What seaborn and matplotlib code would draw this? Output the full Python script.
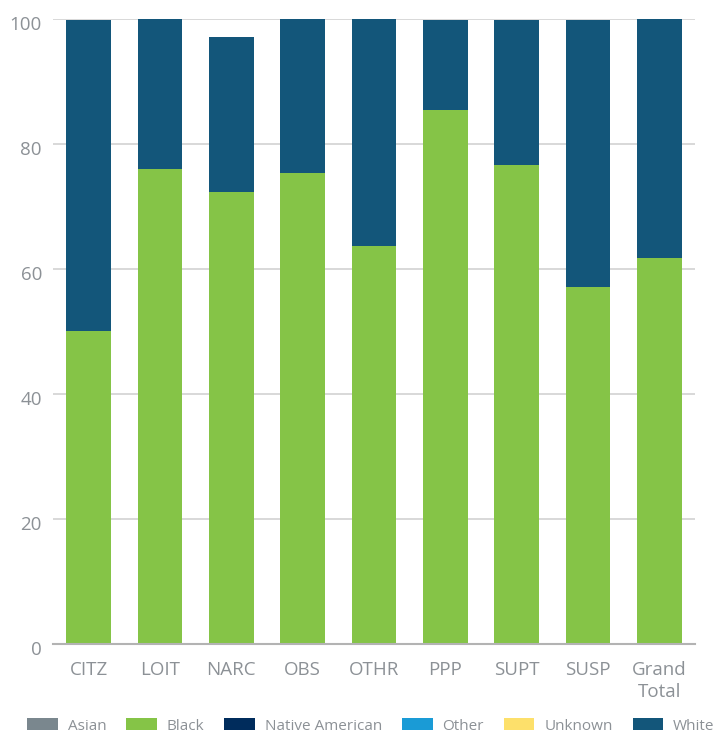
import matplotlib
matplotlib.use("Agg")
import matplotlib.pyplot as plt
import matplotlib.transforms as mtransforms
from matplotlib.patches import Patch
import seaborn as sns
import pandas as pd
import numpy as np

# ---- data ----
categories = ["CITZ", "LOIT", "NARC", "OBS", "OTHR", "PPP", "SUPT", "SUSP", "Grand Total"]
tick_labels = ["CITZ", "LOIT", "NARC", "OBS", "OTHR", "PPP", "SUPT", "SUSP", "Grand\nTotal"]
races = ["Asian", "Black", "Native American", "Other", "Unknown", "White"]
asian = [0, 0, 0, 0, 0, 0, 0, 0, 0]
black = [50.1, 76.0, 72.3, 75.3, 63.7, 85.4, 76.6, 57.1, 61.8]
native_american = [0, 0, 0, 0, 0, 0, 0, 0, 0]
other = [0, 0, 0, 0, 0, 0, 0, 0, 0]
unknown = [0, 0, 0, 0, 0, 0, 0, 0, 0]
white = [49.7, 24.0, 24.8, 24.7, 36.3, 14.5, 23.2, 42.7, 38.3]
colors = {
    "Asian": "#7a878e",
    "Black": "#85c447",
    "Native American": "#002c5c",
    "Other": "#1a9bd6",
    "Unknown": "#fde06b",
    "White": "#13567a",
}
y_ticks = [0, 20, 40, 60, 80, 100]

series = [asian, black, native_american, other, unknown, white]
df = pd.DataFrame({r: v for r, v in zip(races, series)}, index=categories)
cum = df.cumsum(axis=1)

sns.set_theme(style="white")
plt.rcParams["font.family"] = ["Open Sans", "DejaVu Sans"]

fig = plt.figure(figsize=(7.14, 7.34), dpi=100)
ax = fig.add_axes([53 / 714, 1 - 644 / 734, (695 - 53) / 714, (644 - 19) / 734])

# draw stacked bars: top-most cumulative first, lower layers overlaid
for r in reversed(races):
    d = pd.DataFrame({"cat": categories, "val": cum[r].values})
    if df[r].sum() == 0:
        continue
    sns.barplot(data=d, x="cat", y="val", order=categories, color=colors[r],
                width=0.63, linewidth=0, saturation=1, ax=ax, errorbar=None,
                zorder=3)

ax.set_xlim(-0.5, len(categories) - 0.5)
ax.set_ylim(0, 100)
ax.set_yticks(y_ticks)
ax.set_xticks(range(len(categories)))
ax.set_xticklabels(tick_labels)
ax.set_xlabel("")
ax.set_ylabel("")

label_color = "#8c9196"
ax.tick_params(axis="both", length=0, labelsize=13.5, labelcolor=label_color)
ax.tick_params(axis="x", pad=12.5)
ax.tick_params(axis="y", pad=8)
for t in ax.get_xticklabels():
    t.set_linespacing(1.25)
offset = mtransforms.ScaledTranslation(0, -4 / 100, fig.dpi_scale_trans)
for t in ax.get_yticklabels():
    t.set_transform(t.get_transform() + offset)

ax.yaxis.grid(True, color="#d6d6d6", linewidth=1.3, zorder=0)
ax.set_axisbelow(True)
for s in ["left", "right", "top"]:
    ax.spines[s].set_visible(False)
ax.spines["bottom"].set_color("#b3b3b3")
ax.spines["bottom"].set_linewidth(1.5)
ax.spines["bottom"].set_zorder(5)

handles = [Patch(facecolor=colors[r], edgecolor="none", label=r) for r in races]
leg = fig.legend(handles=handles, loc="center", ncol=6, frameon=False,
                 bbox_to_anchor=(371 / 714, 1 - 726 / 734), fontsize=11,
                 handlelength=2.0, handleheight=0.85, handletextpad=0.65,
                 columnspacing=1.3, borderaxespad=0, borderpad=0)
for t in leg.get_texts():
    t.set_color(label_color)

fig.savefig("out.png", dpi=100)
